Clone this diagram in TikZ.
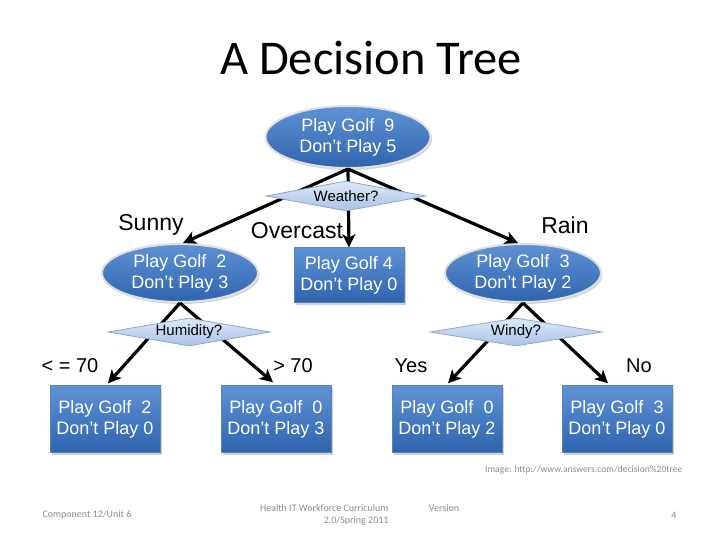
\documentclass[tikz,border=0pt]{standalone}
\usepackage{fontspec}
\setmainfont{Liberation Sans}
\newfontfamily\titlefont{Carlito}
\usetikzlibrary{shapes.geometric,arrows.meta,shadows}
\definecolor{bluetop}{HTML}{5F92D4}
\definecolor{bluebot}{HTML}{2F64AE}
\definecolor{dtop}{HTML}{DCE8F8}
\definecolor{dbot}{HTML}{A9C3E8}
\definecolor{dline}{HTML}{8EA6CC}
\definecolor{foot}{HTML}{8C8C8C}
\begin{document}
\begin{tikzpicture}[x=1pt,y=-1pt,
  counts/.style={text=white,font=\fontsize{18}{21}\selectfont,align=center,
    top color=bluetop,bottom color=bluebot,
    drop shadow={opacity=0.35,shadow xshift=1.5pt,shadow yshift=-2pt}},
  oval/.style={counts,ellipse,draw=black!12,line width=2pt,inner sep=0pt,
    minimum width=156pt,minimum height=58pt},
  leafbox/.style={counts,rectangle,draw=bluebot!80!white,line width=0.4pt,inner sep=0pt,
    minimum width=110pt,minimum height=67pt},
  test/.style={diamond,aspect=5.5,inner sep=0pt,draw=dline,line width=0.8pt,
    top color=dtop,bottom color=dbot,font=\fontsize{15}{17}\selectfont,
    minimum width=160pt,minimum height=30pt},
  branch/.style={line width=3.2pt,-{Stealth[length=13pt,width=13pt,inset=3.5pt]}},
  lbl/.style={font=\fontsize{23}{25}\selectfont},
  lbls/.style={font=\fontsize{20}{22}\selectfont},
  ft/.style={text=foot,font=\titlefont\fontsize{10}{12}\selectfont}]
\useasboundingbox (0,0) rectangle (720,540);
\node[font=\titlefont\fontsize{48.5}{54}\selectfont] (title) at (371,58) {A Decision Tree};
% nodes
\node[oval,minimum width=165pt,minimum height=62pt] (root) at (348,137) {Play Golf\ \ 9\\Don’t Play 5};
\node[oval] (sunny) at (180,273) {Play Golf\ \ 2\\Don’t Play 3};
\node[leafbox,minimum width=110pt,minimum height=55pt] (over) at (349,275) {Play Golf 4\\Don’t Play 0};
\node[oval] (rain) at (523,273) {Play Golf\ \ 3\\Don’t Play 2};
\node[leafbox] (l1) at (105,419) {Play Golf\ \ 2\\Don’t Play 0};
\node[leafbox] (l2) at (276,419) {Play Golf\ \ 0\\Don’t Play 3};
\node[leafbox] (l3) at (447,419) {Play Golf\ \ 0\\Don’t Play 2};
\node[leafbox] (l4) at (617,419) {Play Golf\ \ 3\\Don’t Play 0};
% connectors
\draw[branch] (root.south) -- ([xshift=3pt]sunny.north);
\draw[branch] (root.south) -- (over.north);
\draw[branch] (root.south) -- ([xshift=-5pt]rain.north);
\draw[branch] (sunny.south) -- ([xshift=3pt,yshift=2pt]l1.north);
\draw[branch] (sunny.south) -- ([xshift=-3pt,yshift=3pt]l2.north);
\draw[branch] (rain.south) -- ([xshift=1pt,yshift=2pt]l3.north);
\draw[branch] (rain.south) -- ([xshift=-9pt,yshift=2pt]l4.north);
% decision diamonds
\node[test] (weather) at (346,196) {Weather?};
\node[test,minimum width=162pt,minimum height=28pt] (humid) at (189,332) {Humidity?};
\node[test,minimum width=172pt,minimum height=28pt] (windy) at (516,332) {Windy?};
% branch labels
\node[lbl] (lsunny) at (151,225) {Sunny};
\node[lbl] (lover) at (297,231) {Overcast};
\node[lbl] (lrain) at (565,225) {Rain};
\node[lbls] (lle) at (70,366) {< = 70};
\node[lbls] (lgt) at (293,366) {> 70};
\node[lbls] (lyes) at (411,366) {Yes};
\node[lbls] (lno) at (639,366) {No};
% footer
\node[ft,anchor=east,font=\titlefont\fontsize{9.6}{11}\selectfont] (src) at (686,470) {Image: http://www.answers.com/decision\%20tree};
\node[ft] (comp) at (87,515) {Component 12/Unit 6};
\node[ft,align=right,anchor=north east] (curr) at (392,501) {Health IT Workforce Curriculum\\2.0/Spring 2011};
\node[ft] (ver) at (444,508) {Version};
\node[ft] (page) at (674,515) {4};
\end{tikzpicture}
\end{document}
